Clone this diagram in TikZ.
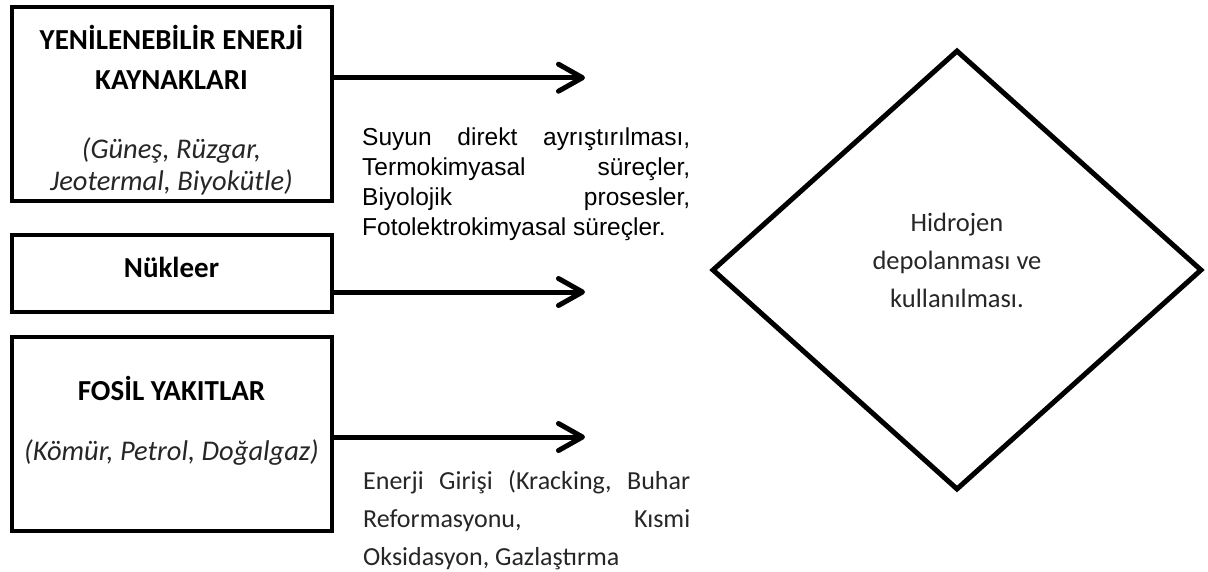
\documentclass[tikz,border=0pt]{standalone}
\usepackage{fontspec}
\setmainfont{Carlito}
\newfontfamily\arialfont{Liberation Sans}
\usetikzlibrary{arrows.meta,calc,shapes.geometric}
\definecolor{text_color}{RGB}{38,38,38}
\tikzset{
  source/.style={
    draw=black, line width=4pt, minimum width=320pt, inner sep=0pt
  },
  title/.style={
    font=\fontsize{29}{40}\selectfont\bfseries, align=center, inner sep=0pt
  },
  subtitle/.style={
    font=\fontsize{28.5}{32}\selectfont\itshape, text=text_color,
    align=center, inner sep=0pt
  },
  process/.style={
    anchor=north west, inner sep=0pt, text width=328pt, align=justify
  },
  storage/.style={
    draw=black, line width=5pt, diamond,
    minimum width=490pt, minimum height=440pt, inner sep=0pt
  },
  sourcelink/.style={-{Straight Barb[length=24pt, width=27pt, round]}, line width=5pt}
}

\begin{document}
\begin{tikzpicture}
\useasboundingbox (0,0) rectangle (1208pt,-571pt);

\node[source, minimum height=194pt] (renewable) at (171.5pt,-103.5pt) {};
\node[title] (renewable_title) at ($(renewable.center) + (0, 46.5pt)$) {YENİLENEBİLİR ENERJİ\\KAYNAKLARI};
\node[subtitle] (renewable_sub) at ($(renewable.center) + (0, -62.5pt)$) {(Güneş, Rüzgar,\\Jeotermal, Biyokütle)};

\node[source, minimum height=77pt] (nuclear) at (171.5pt,-273.5pt) {};
\node[title] (nuclear_title) at ($(nuclear.center) + (0, 6.5pt)$) {Nükleer};

\node[source, minimum height=194pt] (fossil) at (171.5pt,-434pt) {};
\node[title] (fossil_title) at ($(fossil.center) + (0, 46pt)$) {FOSİL YAKITLAR};
\node[subtitle] (fossil_sub) at ($(fossil.center) + (0, -19pt)$) {(Kömür, Petrol, Doğalgaz)};

\coordinate (renewable_end) at (585pt,-77.7pt);
\coordinate (nuclear_end) at (585pt,-292pt);
\coordinate (fossil_end) at (585pt,-437pt);
\draw[sourcelink] (renewable.east |- renewable_end) -- (renewable_end);
\draw[sourcelink] (nuclear.east |- nuclear_end) -- (nuclear_end);
\draw[sourcelink] (fossil.east |- fossil_end) -- (fossil_end);

\node[process, font=\arialfont\fontsize{24.5}{30}\selectfont] (water_paths) at (362pt,-128pt) {Suyun\hfill direkt\hfill ayrıştırılması,\\ Termokimyasal\hfill süreçler,\\ Biyolojik\hfill prosesler,\\ Fotolektrokimyasal süreçler.};
\node[process, text width=327pt, text=text_color, font=\fontsize{26}{38}\selectfont] (fossil_paths) at (363pt,-470pt) {Enerji\hfill Girişi\hfill (Kracking,\hfill Buhar\\ Reformasyonu,\hfill Kısmi\\ Oksidasyon, Gazlaştırma};

\node[storage] (hydrogen) at (957pt,-270pt) {};
\node[align=center, text=text_color, font=\fontsize{26.5}{38}\selectfont, inner sep=0pt] (hydrogen_text) at ($(hydrogen.center) + (0, 10pt)$) {Hidrojen\\depolanması ve\\kullanılması.};

\end{tikzpicture}
\end{document}
